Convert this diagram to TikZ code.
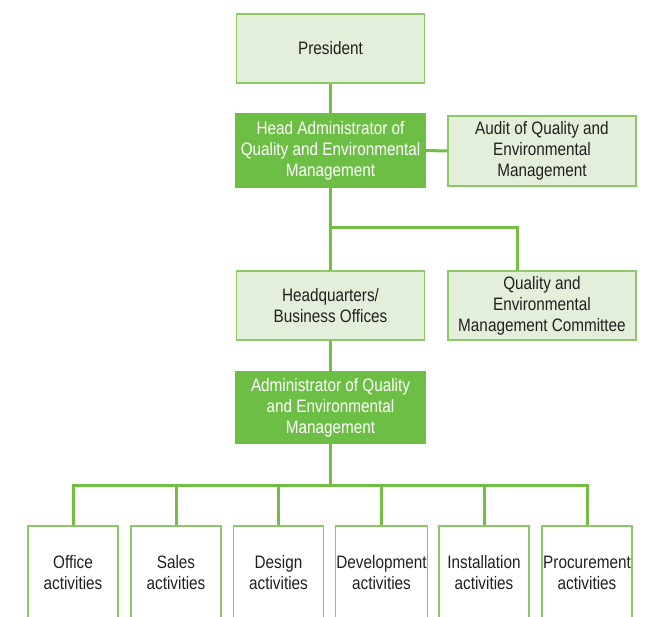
\documentclass[tikz,border=0pt]{standalone}
\usepackage{fontspec}
\setmainfont{Liberation Sans}[FakeStretch=0.85]
\usepackage{tikz}
\usetikzlibrary{positioning,calc}

\definecolor{qgreen}{HTML}{72BF44}
\definecolor{qedge}{HTML}{8CC865}
\definecolor{qlight}{HTML}{E3EFDA}
\definecolor{qdark}{HTML}{6DBE45}
\definecolor{qtext}{HTML}{231F20}

\begin{document}
\begin{tikzpicture}[
        x=1pt,
        y=-1pt,
        every node/.style={font=\fontsize{18}{21}\selectfont, align=center, text=qtext},
        lightbox/.style={draw=qedge, fill=qlight, line width=1.5pt, minimum width=188pt, minimum height=69pt, inner sep=2pt},
        darkbox/.style={draw=qdark, fill=qdark, line width=1.5pt, minimum width=189pt, minimum height=71pt, inner sep=2pt, text=white},
        leaf/.style={draw=qedge, fill=white, line width=1.5pt, minimum width=90pt, minimum height=94pt, inner sep=1pt},
        link/.style={draw=qgreen, line width=3pt}
    ]
        \clip (0,0) rectangle (650,617);
        \fill[white] (0,0) rectangle (650,617);

        \node[lightbox] (pres) at (330.5,48.5) {President};
        \node[darkbox, minimum height=73pt] (head) at (330.5,150.5) {Head Administrator of\\Quality and Environmental\\Management};
        \node[lightbox, minimum height=70pt] (audit) at (542,151) {Audit of Quality and\\Environmental\\Management};
        \node[lightbox] (hq) at (330.5,305.5) {Headquarters/\\Business Offices};
        \node[lightbox] (qemc) at (542,305.5) {Quality and\\Environmental\\Management Committee};
        \node[darkbox] (admin) at (330.5,407.5) {Administrator of Quality\\and Environmental\\Management};

        \node[leaf] (office) at (73,573) {Office\\activities};
        \node[leaf] (sales) at (176,573) {Sales\\activities};
        \node[leaf] (design) at (278.5,573) {Design\\activities};
        \node[leaf] (devel) at (381.5,573) {Development\\activities};
        \node[leaf] (install) at (484,573) {Installation\\activities};
        \node[leaf] (procure) at (587,573) {Procurement\\activities};

        \coordinate (split) at (330.5,228);
        \coordinate (bus) at (330.5,485);
        \coordinate (qdrop) at ($(qemc.north west)+(70,0)$);

        \draw[link] (pres.south) -- (head.north);
        \draw[link] (head.east) -- (audit.west);
        \draw[link] (head.south) -- (hq.north);
        \draw[link] (split) -| (qdrop);
        \draw[link] (hq.south) -- (admin.north);
        \draw[link] (admin.south) -- (bus);
        \foreach \n in {office,sales,design,devel,install,procure} {
            \draw[link] (bus) -| (\n.north);
        }
    \end{tikzpicture}
\end{document}
